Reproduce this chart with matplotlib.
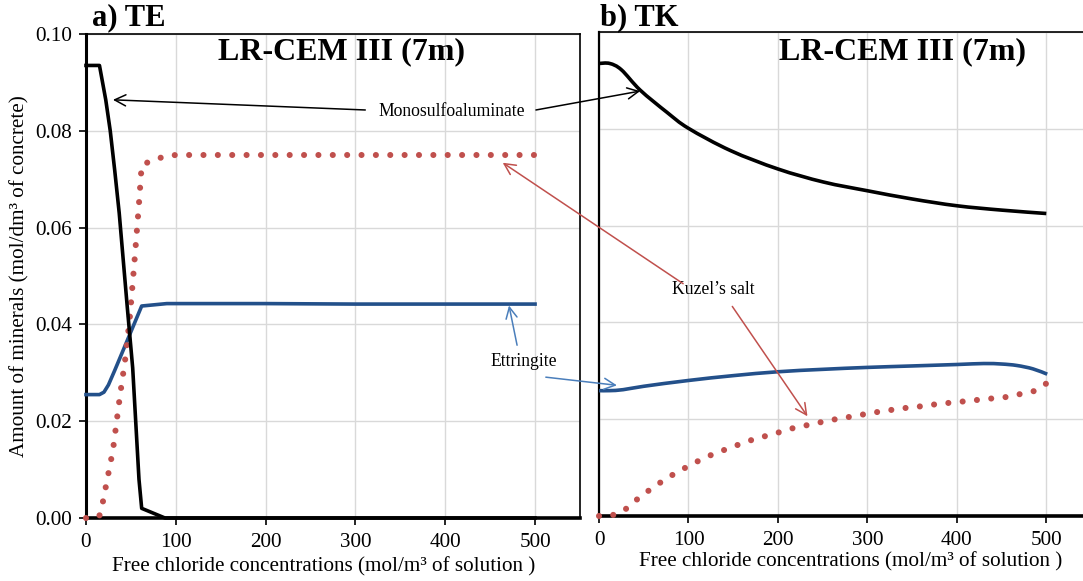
import matplotlib
matplotlib.use('Agg')
import numpy as np
import matplotlib.pyplot as plt
from matplotlib.path import Path
from matplotlib.patches import PathPatch

plt.rcParams['font.family'] = ['Liberation Serif', 'DejaVu Serif']

# a) TE
te_mono_x = [0, 15, 22, 27, 32, 37, 46, 52, 59, 62, 88, 100, 200, 300, 400, 500]
te_mono_y = [0.0935, 0.0935, 0.0864, 0.080, 0.0718, 0.063, 0.0435, 0.031, 0.008, 0.002,
             0.0, 0.0, 0.0, 0.0, 0.0, 0.0]
te_kuzel_x = [0, 10, 15, 19, 22, 30, 38, 43.4, 48.6, 53.8, 58.7, 62, 75, 90, 100, 200, 300, 400, 500]
te_kuzel_y = [0.0, 0.0, 0.0005, 0.0035, 0.0064, 0.014, 0.0255, 0.0324, 0.041, 0.0526, 0.0642,
              0.0729, 0.074, 0.0748, 0.075, 0.075, 0.075, 0.075, 0.075]
te_ett_x = [0, 15, 20, 25, 32, 62, 90, 200, 300, 400, 500]
te_ett_y = [0.0255, 0.0255, 0.026, 0.0275, 0.0305, 0.0438, 0.0443, 0.0443, 0.0442, 0.0442, 0.0442]

# b) TK (smoothed curves)
tk_mono_x = [0, 12, 25, 46, 76, 100, 147, 200, 251, 300, 350, 400, 450, 500]
tk_mono_y = [0.0935, 0.0935, 0.0922, 0.088, 0.0834, 0.0801, 0.0755, 0.0717, 0.0690,
             0.0672, 0.0655, 0.0641, 0.0632, 0.0625]
tk_kuzel_x = [0, 10, 25, 37, 50, 63, 76, 89, 103, 117, 132, 147, 161, 176, 192, 207, 222,
              237, 253, 268, 284, 299, 315, 330, 346, 362, 377, 393, 409, 424, 440, 456,
              471, 486, 501]
tk_kuzel_y = [0.0, 0.0, 0.0008, 0.0026, 0.0045, 0.0062, 0.0078, 0.0092, 0.0106, 0.0119,
              0.0131, 0.0141, 0.0151, 0.016, 0.0168, 0.0176, 0.0184, 0.0189, 0.0196, 0.0201,
              0.0206, 0.0211, 0.0216, 0.022, 0.0224, 0.0227, 0.0231, 0.0234, 0.0237, 0.024,
              0.0243, 0.0246, 0.0252, 0.0258, 0.0275]
tk_ett_x = [0, 12, 27, 50, 100, 150, 200, 250, 300, 350, 400, 430, 450, 467, 485, 501]
tk_ett_y = [0.0259, 0.0259, 0.0261, 0.0268, 0.028, 0.029, 0.0298, 0.0303, 0.0307,
            0.031, 0.0313, 0.0315, 0.0314, 0.0311, 0.0304, 0.0293]

xticks = [0, 100, 200, 300, 400, 500]
yticks = [0.00, 0.02, 0.04, 0.06, 0.08, 0.10]

black = '#000000'
blue = '#23508a'
red = '#c0504d'
arrow_blue = '#4a7ebb'
grid_c = '#d9d9d9'
lw = 2.6
dot_lw = 4.4
dots = (0, (0.001, 2.35))
fs = 15.2

fig = plt.figure(figsize=(10.83, 5.81), dpi=100)
ax1 = fig.add_axes([0.0794, 0.1084, 0.4561, 0.8331])
ax2 = fig.add_axes([0.5531, 0.1119, 0.4469, 0.8330])


def style_axes(ax, xmax, show_y):
    ax.set_xlim(0, xmax)
    ax.set_ylim(0, 0.10)
    ax.set_xticks(xticks)
    ax.set_yticks(yticks)
    ax.grid(True, color=grid_c, lw=1.0)
    ax.set_axisbelow(True)
    ax.tick_params(axis='both', direction='out', length=5, width=1.2, labelsize=fs)
    ax.tick_params(axis='x', pad=6)
    ax.tick_params(axis='y', pad=5)
    ax.spines['left'].set_linewidth(2.2)
    ax.spines['bottom'].set_linewidth(2.6)
    ax.spines['top'].set_linewidth(1.2)
    ax.spines['right'].set_linewidth(1.2)
    if show_y:
        ax.set_yticklabels(['%.2f' % v for v in yticks])
    else:
        ax.tick_params(axis='y', length=0, labelleft=False)
        ax.spines['left'].set_linewidth(1.6)
    ax.set_xlabel('Free chloride concentrations (mol/m³ of solution )', fontsize=fs)


def smooth_curve(ax, x, y, **kw):
    # Catmull-Rom style bezier through the points, built in axes-scaled units
    sx = ax.get_xlim()[1]
    sy = ax.get_ylim()[1]
    p = np.column_stack([np.asarray(x) / sx, np.asarray(y) / sy])
    n = len(p)
    verts = [p[0]]
    codes = [Path.MOVETO]
    for i in range(n - 1):
        p0 = p[i - 1] if i > 0 else p[i]
        p1 = p[i]
        p2 = p[i + 1]
        p3 = p[i + 2] if i + 2 < n else p[i + 1]
        verts += [p1 + (p2 - p0) / 6, p2 - (p3 - p1) / 6, p2]
        codes += [Path.CURVE4] * 3
    verts = np.array(verts) * [sx, sy]
    patch = PathPatch(Path(verts, codes), fill=False, transform=ax.transData,
                      clip_on=False, **kw)
    ax.add_patch(patch)


style_axes(ax1, 550, True)
style_axes(ax2, 541, False)
ax2.spines['right'].set_visible(False)
ax1.xaxis.set_label_coords(0.482, -0.080)
ax2.xaxis.set_label_coords(0.519, -0.074)
ax1.set_ylabel('Amount of minerals (mol/dm³ of concrete)', fontsize=fs, labelpad=4)

ax1.text(0.518, 0.963, 'LR-CEM III (7m)', transform=ax1.transAxes, ha='center',
         va='center', fontsize=23, fontweight='bold')
ax2.text(0.628, 0.959, 'LR-CEM III (7m)', transform=ax2.transAxes, ha='center',
         va='center', fontsize=23, fontweight='bold')

# TE: straight segments
ax1.plot(te_ett_x, te_ett_y, color=blue, lw=lw, clip_on=False, zorder=3)
ax1.plot(te_kuzel_x, te_kuzel_y, color=red, lw=dot_lw, linestyle=dots,
         dash_capstyle='round', clip_on=False, zorder=4)
ax1.plot(te_mono_x, te_mono_y, color=black, lw=lw, clip_on=False, zorder=5)

# TK: smoothed
smooth_curve(ax2, tk_ett_x, tk_ett_y, edgecolor=blue, lw=lw, zorder=3)
smooth_curve(ax2, tk_kuzel_x, tk_kuzel_y, edgecolor=red, lw=dot_lw, linestyle=dots,
             capstyle='round', zorder=4)
smooth_curve(ax2, tk_mono_x, tk_mono_y, edgecolor=black, lw=lw, zorder=5)

fig.text(92 / 1083, 1 - 25 / 581, 'a) TE', fontsize=22, fontweight='bold',
         ha='left', va='baseline')
fig.text(600 / 1083, 1 - 25 / 581, 'b) TK', fontsize=22, fontweight='bold',
         ha='left', va='baseline')

# labels with arrows pointing at the curves
ann_fs = 12.7
ax1.text(407, 0.0839, 'Monosulfoaluminate', fontsize=ann_fs, ha='center', va='center')
ax1.text(487, 0.0324, 'Ettringite', fontsize=ann_fs, ha='center', va='center')
ax2.text(127.5, 0.0468, 'Kuzel’s salt', fontsize=ann_fs, ha='center', va='center')


def arrow(ax, tip, tip_coords, start, start_coords, color):
    ax.annotate('', xy=tip, xycoords=tip_coords, xytext=start, textcoords=start_coords,
                arrowprops=dict(arrowstyle='->', color=color, lw=1.1, shrinkA=0,
                                shrinkB=0, mutation_scale=20), zorder=6)


arrow(ax1, (30, 0.0864), ax1.transData, (311, 0.0843), ax1.transData, black)
arrow(ax2, (46, 0.0878), ax2.transData, (501, 0.0843), ax1.transData, black)
arrow(ax2, (464, 0.0734), ax1.transData, (94, 0.048), ax2.transData, red)
arrow(ax2, (233, 0.0206), ax2.transData, (149, 0.0433), ax2.transData, red)
arrow(ax1, (471, 0.0439), ax1.transData, (480, 0.0357), ax1.transData, arrow_blue)
arrow(ax2, (20, 0.0270), ax2.transData, (512, 0.0291), ax1.transData, arrow_blue)

fig.savefig('out.png', dpi=100)
